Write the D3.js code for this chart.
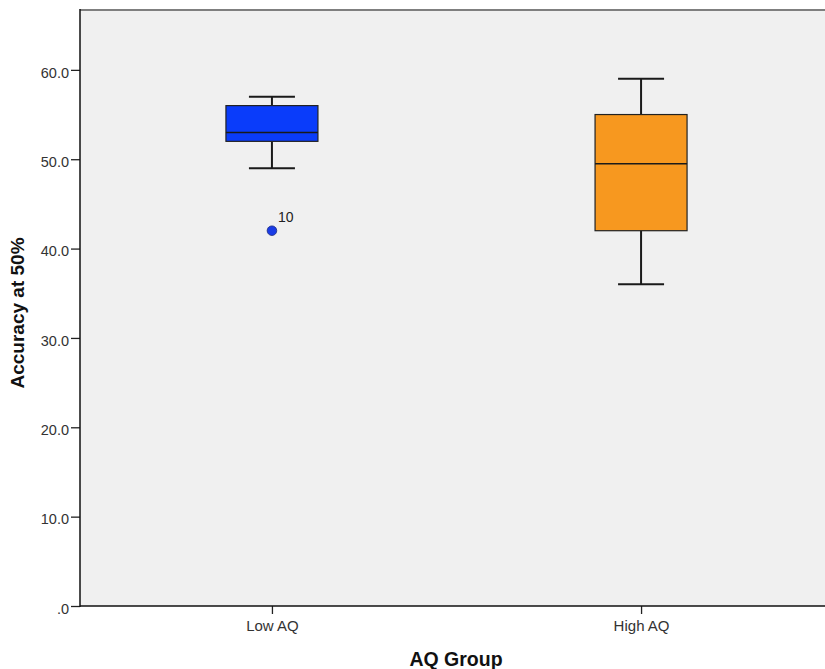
<!DOCTYPE html>
<html>
<head>
<meta charset="utf-8">
<script src="https://cdn.jsdelivr.net/npm/d3@7"></script>
<style>
  body { margin: 0; background: #fff; }
  text { font-family: "Liberation Sans", Arial, sans-serif; }
</style>
</head>
<body>
<div id="chart"></div>
<script>
var svgWidth = 825;
var svgHeight = 669;

// box plot stats
var groups = ["Low AQ", "High AQ"];
var whiskerLow = [49, 36];
var q1 = [52, 42];
var median = [53, 49.5];
var q3 = [56, 55];
var whiskerHigh = [57, 59];
var fills = ["#0a3cfa", "#f7981f"];

var outlierGroup = ["Low AQ"];
var outlierValue = [42];
var outlierLabel = ["10"];

var yTicks = [0, 10, 20, 30, 40, 50, 60];

var margin = { top: 10, left: 80 };
var plotRight = 833;
var plotBottom = 606;

var svg = d3.select("#chart")
  .append("svg")
  .attr("width", svgWidth)
  .attr("height", svgHeight);

var x = d3.scalePoint()
  .domain(groups)
  .range([margin.left, plotRight])
  .padding(0.52);

var y = d3.scaleLinear()
  .domain([0, 66.7])
  .range([plotBottom, margin.top]);

// plot background
svg.append("rect")
  .attr("x", margin.left)
  .attr("y", margin.top)
  .attr("width", plotRight - margin.left)
  .attr("height", plotBottom - margin.top)
  .attr("fill", "#f0f0f0");

// top frame line
svg.append("line")
  .attr("x1", margin.left).attr("x2", svgWidth)
  .attr("y1", margin.top).attr("y2", margin.top)
  .attr("stroke", "#7f7f7f")
  .attr("stroke-width", 2);

// axes
var leftAxis = d3.axisLeft(y)
  .tickValues(yTicks)
  .tickSize(9)
  .tickFormat(d => d === 0 ? ".0" : d.toFixed(1));

var yAxis = svg.append("g")
  .attr("transform", `translate(${margin.left},0)`)
  .call(leftAxis);
yAxis.select(".domain").remove();
yAxis.selectAll(".tick line").attr("stroke", "#222").attr("stroke-width", 1.3);
yAxis.selectAll(".tick text")
  .attr("fill", "#333")
  .attr("font-size", "14.5px")
  .attr("x", -11)
  .attr("dy", "0.5em");

var bottomAxis = d3.axisBottom(x).tickSize(8).tickPadding(6);
var xAxis = svg.append("g")
  .attr("transform", `translate(0,${plotBottom})`)
  .call(bottomAxis);
xAxis.select(".domain").remove();
xAxis.selectAll(".tick line").attr("stroke", "#222").attr("stroke-width", 1.3);
xAxis.selectAll(".tick text")
  .attr("fill", "#333")
  .attr("font-size", "15px");

svg.append("line")
  .attr("x1", margin.left).attr("x2", svgWidth)
  .attr("y1", plotBottom).attr("y2", plotBottom)
  .attr("stroke", "#111").attr("stroke-width", 1.5);
svg.append("line")
  .attr("x1", margin.left).attr("x2", margin.left)
  .attr("y1", margin.top - 1).attr("y2", plotBottom + 1)
  .attr("stroke", "#111").attr("stroke-width", 1.5);

// boxes
var boxW = 92;
var capW = 46;
var boxes = svg.append("g");

groups.forEach(function(g, i) {
  var cx = x(g);
  var b = boxes.append("g");
  // whiskers
  b.append("line")
    .attr("x1", cx).attr("x2", cx)
    .attr("y1", y(whiskerHigh[i])).attr("y2", y(q3[i]))
    .attr("stroke", "#1a1a1a").attr("stroke-width", 2);
  b.append("line")
    .attr("x1", cx).attr("x2", cx)
    .attr("y1", y(q1[i])).attr("y2", y(whiskerLow[i]))
    .attr("stroke", "#1a1a1a").attr("stroke-width", 2);
  b.append("line")
    .attr("x1", cx - capW / 2).attr("x2", cx + capW / 2)
    .attr("y1", y(whiskerHigh[i])).attr("y2", y(whiskerHigh[i]))
    .attr("stroke", "#1a1a1a").attr("stroke-width", 2);
  b.append("line")
    .attr("x1", cx - capW / 2).attr("x2", cx + capW / 2)
    .attr("y1", y(whiskerLow[i])).attr("y2", y(whiskerLow[i]))
    .attr("stroke", "#1a1a1a").attr("stroke-width", 2);
  // box
  b.append("rect")
    .attr("x", cx - boxW / 2)
    .attr("y", y(q3[i]))
    .attr("width", boxW)
    .attr("height", y(q1[i]) - y(q3[i]))
    .attr("fill", fills[i])
    .attr("stroke", "#222")
    .attr("stroke-width", 1.2);
  // median
  b.append("line")
    .attr("x1", cx - boxW / 2).attr("x2", cx + boxW / 2)
    .attr("y1", y(median[i])).attr("y2", y(median[i]))
    .attr("stroke", "#1a1a1a").attr("stroke-width", 1.5);
});

// outliers
outlierGroup.forEach(function(g, j) {
  var i = groups.indexOf(g);
  svg.append("circle")
    .attr("cx", x(g))
    .attr("cy", y(outlierValue[j]))
    .attr("r", 4.8)
    .attr("fill", "#1a3ce6")
    .attr("stroke", "#1a2a80")
    .attr("stroke-width", 0.8);
  svg.append("text")
    .attr("x", x(g) + 6)
    .attr("y", y(outlierValue[j]) - 9)
    .attr("font-size", "14px")
    .attr("fill", "#222")
    .text(outlierLabel[j]);
});

// axis titles
svg.append("text")
  .attr("x", 456)
  .attr("y", 666)
  .attr("text-anchor", "middle")
  .attr("font-size", "19.5px")
  .attr("font-weight", "bold")
  .attr("fill", "#111")
  .text("AQ Group");

svg.append("text")
  .attr("transform", `translate(24, ${313}) rotate(-90)`)
  .attr("text-anchor", "middle")
  .attr("font-size", "19px")
  .attr("font-weight", "bold")
  .attr("fill", "#111")
  .text("Accuracy at 50%");
</script>
</body>
</html>
